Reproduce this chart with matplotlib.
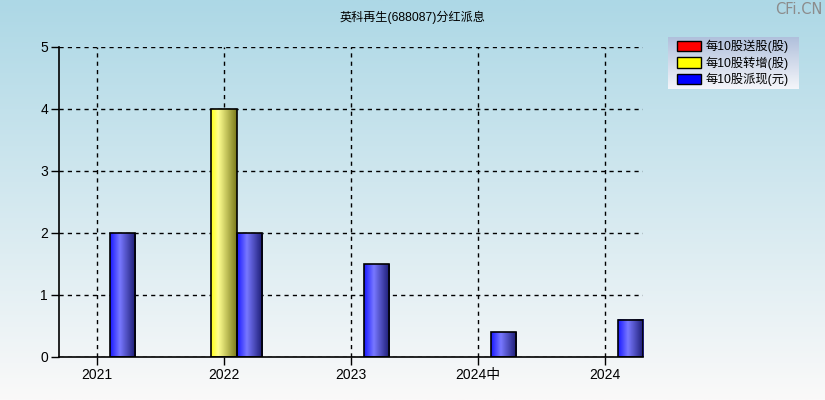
import numpy as np
import matplotlib
matplotlib.use("Agg")
import matplotlib.pyplot as plt
from matplotlib.patches import Patch
from matplotlib.colors import LinearSegmentedColormap

plt.rcParams['font.family'] = ['Liberation Sans', 'Noto Sans CJK SC', 'DejaVu Sans']

title = "英科再生(688087)分红派息"
categories = ["2021", "2022", "2023", "2024中", "2024"]
song = [0, 0, 0, 0, 0]          # 每10股送股(股)
zhuan = [0, 4, 0, 0, 0]         # 每10股转增(股)
pai = [2, 2, 1.5, 0.4, 0.6]     # 每10股派现(元)
series_names = ["每10股送股(股)", "每10股转增(股)", "每10股派现(元)"]
yticks = [0, 1, 2, 3, 4, 5]

W, H = 825, 400
fig = plt.figure(figsize=(W / 100, H / 100), dpi=100)

# background gradient
bg = fig.add_axes([0, 0, 1, 1], zorder=-10)
top = np.array([173, 216, 230]) / 255
bot = np.array([250, 249, 249]) / 255
t = np.linspace(0, 1, 256)[:, None]
grad = top[None, :] * (1 - t) + bot[None, :] * t
bg.imshow(grad[:, None, :].repeat(2, axis=1), aspect='auto', extent=[0, 1, 0, 1])
bg.axis('off')

ax = fig.add_axes([59 / W, 43 / H, 584 / W, 310 / H])
ax.set_facecolor('none')
x = np.arange(len(categories))
bw = 0.2

cmaps = {
    'red': LinearSegmentedColormap.from_list('r', [(0, '#ff1a1a'), (0.35, '#ff8080'), (1, '#701a1a')]),
    'yellow': LinearSegmentedColormap.from_list('y', [(0, '#ffff1a'), (0.28, '#ffff90'), (1, '#7a7a1a')]),
    'blue': LinearSegmentedColormap.from_list('b', [(0, '#1a1aff'), (0.38, '#7878ff'), (1, '#1a1a70')]),
}
hgrad = np.linspace(0, 1, 64)[None, :]

for vals, off, key in [(song, -bw, 'red'), (zhuan, 0, 'yellow'), (pai, bw, 'blue')]:
    bars = ax.bar(x + off, vals, width=bw, facecolor='none', edgecolor='black', linewidth=1.2, zorder=4)
    for b in bars:
        h = b.get_height()
        if h <= 0:
            b.set_linewidth(0)
            continue
        ax.imshow(hgrad, cmap=cmaps[key], aspect='auto', zorder=3, interpolation='bilinear',
                  extent=[b.get_x(), b.get_x() + b.get_width(), 0, h])

ax.set_xlim(-38 / 127, len(categories) - 1 + 38 / 127)
ax.set_ylim(0, 5)
ax.set_xticks(x)
ax.set_xticklabels(categories, fontsize=10)
ax.set_yticks(yticks)
ax.set_yticklabels([str(v) for v in yticks], fontsize=10)
ax.grid(True, color='black', linestyle=(0, (3, 3)), linewidth=1, zorder=1)
ax.set_axisbelow(True)
for s in ['top', 'right']:
    ax.spines[s].set_visible(False)
for s in ['left', 'bottom']:
    ax.spines[s].set_linewidth(1.2)
    ax.spines[s].set_zorder(5)
ax.tick_params(axis='both', length=6, width=1, colors='black', pad=2)

fig.text(0.5, 1 - 17 / H, title, ha='center', va='center', fontsize=8.7, color='black')
fig.text(1 - 3 / W, 1 - 10 / H, "CFi.CN", ha='right', va='center', fontsize=10.5,
         color='#8c8c8c', family='DejaVu Sans')

# legend box gradient
lx0, ly0, lx1, ly1 = 668, 37, 799, 89
lax = fig.add_axes([lx0 / W, 1 - ly1 / H, (lx1 - lx0) / W, (ly1 - ly0) / H], zorder=5)
ltop = np.array([176, 192, 220]) / 255
lbot = np.array([245, 246, 250]) / 255
lg = ltop[None, :] * (1 - t) + lbot[None, :] * t
lax.imshow(lg[:, None, :].repeat(2, axis=1), aspect='auto', extent=[0, 1, 0, 1])
lax.axis('off')

handles = [Patch(facecolor=c, edgecolor='black', linewidth=1) for c in ['#ff0000', '#ffff00', '#0000ff']]
leg = fig.legend(handles, series_names, loc='upper left',
                 bbox_to_anchor=(677 / W, 1 - (ly0 + 3) / H), frameon=False,
                 fontsize=8.8, handlelength=2.0, handleheight=0.9, handletextpad=0.35,
                 labelspacing=0.25, borderpad=0.0, borderaxespad=0)
leg.set_zorder(6)

fig.savefig("out.png", dpi=100)
